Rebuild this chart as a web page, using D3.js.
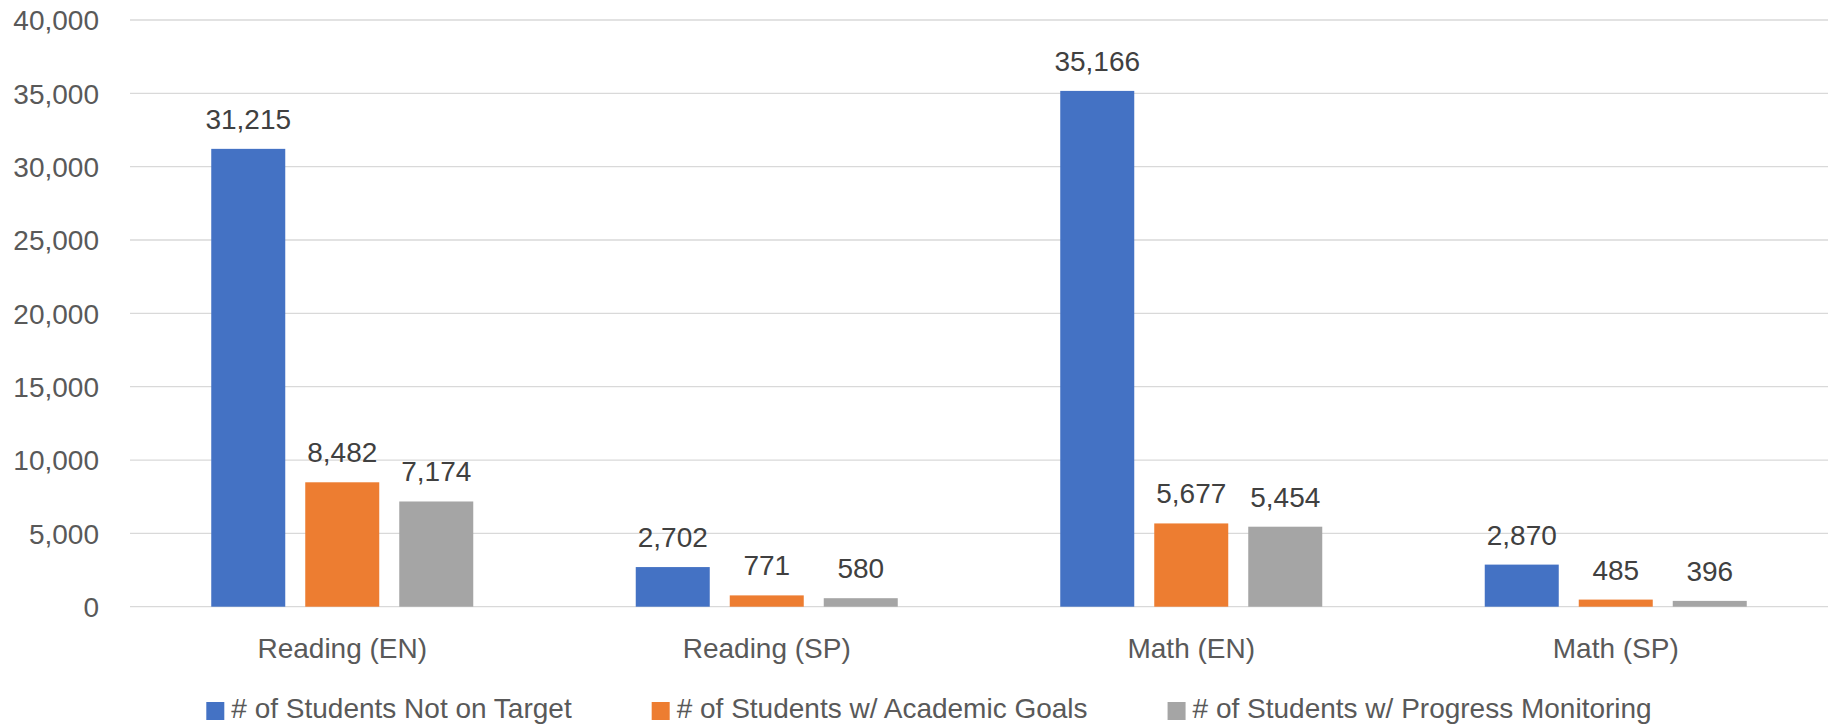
<!DOCTYPE html>
<html>
<head>
<meta charset="utf-8">
<script src="https://cdn.jsdelivr.net/npm/d3@7"></script>
<style>
  html, body { margin: 0; padding: 0; background: #ffffff; }
  svg { display: block; font-family: "Liberation Sans", Arial, sans-serif; }
</style>
</head>
<body>
<svg id="chart" width="1831" height="727"></svg>
<script>
const categories = ["Reading (EN)", "Reading (SP)", "Math (EN)", "Math (SP)"];
const seriesNames = ["# of Students Not on Target", "# of Students w/ Academic Goals", "# of Students w/ Progress Monitoring"];
const notOnTarget = [31215, 2702, 35166, 2870];
const academicGoals = [8482, 771, 5677, 485];
const progressMonitoring = [7174, 580, 5454, 396];
const yTicks = [0, 5000, 10000, 15000, 20000, 25000, 30000, 35000, 40000];
const colors = ["#4472C4", "#ED7D31", "#A5A5A5"];

const seriesValues = [notOnTarget, academicGoals, progressMonitoring];

const svg = d3.select("#chart");
const plot = { left: 130, right: 1828, top: 20, bottom: 606.7 };

const x0 = d3.scaleBand().domain(categories).range([plot.left, plot.right]).paddingInner(0).paddingOuter(0);
const cw = x0.bandwidth();
const cluster = 262;
const x1 = d3.scaleBand().domain(d3.range(seriesNames.length))
  .range([(cw - cluster) / 2, (cw + cluster) / 2]).paddingInner(20 / 94).paddingOuter(0);
const y = d3.scaleLinear().domain([0, 40000]).range([plot.bottom, plot.top]);

const fmt = d3.format(",");

// gridlines
svg.append("g").selectAll("line").data(yTicks).join("line")
  .attr("x1", plot.left).attr("x2", plot.right)
  .attr("y1", d => y(d)).attr("y2", d => y(d))
  .attr("stroke", "#d9d9d9").attr("stroke-width", 1.3);

// y axis labels
const yAxis = d3.axisLeft(y).tickValues(yTicks).tickFormat(fmt).tickSize(0).tickPadding(0);
const gy = svg.append("g").attr("transform", "translate(99,0)").call(yAxis);
gy.select(".domain").remove();
gy.selectAll("text").attr("font-size", 28).attr("fill", "#595959")
  .attr("font-family", "Liberation Sans, Arial, sans-serif").attr("dy", "0.35em");

// x axis labels
const xAxis = d3.axisBottom(x0).tickSize(0).tickPadding(0);
const gx = svg.append("g").attr("transform", `translate(0,${plot.bottom})`).call(xAxis);
gx.select(".domain").remove();
gx.selectAll("text").attr("font-size", 28).attr("fill", "#595959")
  .attr("font-family", "Liberation Sans, Arial, sans-serif").attr("dy", null).attr("y", 51);

// bars
const groups = svg.append("g").selectAll("g").data(categories).join("g")
  .attr("transform", d => `translate(${x0(d)},0)`);

groups.each(function(cat, ci) {
  const g = d3.select(this);
  seriesValues.forEach((vals, si) => {
    const v = vals[ci];
    g.append("rect")
      .attr("x", x1(si)).attr("width", x1.bandwidth())
      .attr("y", y(v)).attr("height", y(0) - y(v))
      .attr("fill", colors[si]);
    g.append("text")
      .attr("x", x1(si) + x1.bandwidth() / 2).attr("y", y(v) - 20)
      .attr("text-anchor", "middle").attr("font-size", 28).attr("fill", "#404040")
      .text(fmt(v));
  });
});

// legend
const legend = svg.append("g");
const items = legend.selectAll("g").data(seriesNames).join("g");
items.append("rect").attr("width", 18).attr("height", 18).attr("y", -16)
  .attr("fill", (d, i) => colors[i]);
items.append("text").attr("x", 25).attr("y", 0).attr("font-size", 28).attr("fill", "#595959").text(d => d);
let xpos = 0;
const widths = [];
items.each(function() {
  const w = 25 + d3.select(this).select("text").node().getComputedTextLength();
  widths.push(w);
});
const gap = 80;
const total = d3.sum(widths) + gap * (widths.length - 1);
let start = 929 - total / 2;
items.attr("transform", (d, i) => {
  const t = `translate(${start},718)`;
  start += widths[i] + gap;
  return t;
});
</script>
</body>
</html>
